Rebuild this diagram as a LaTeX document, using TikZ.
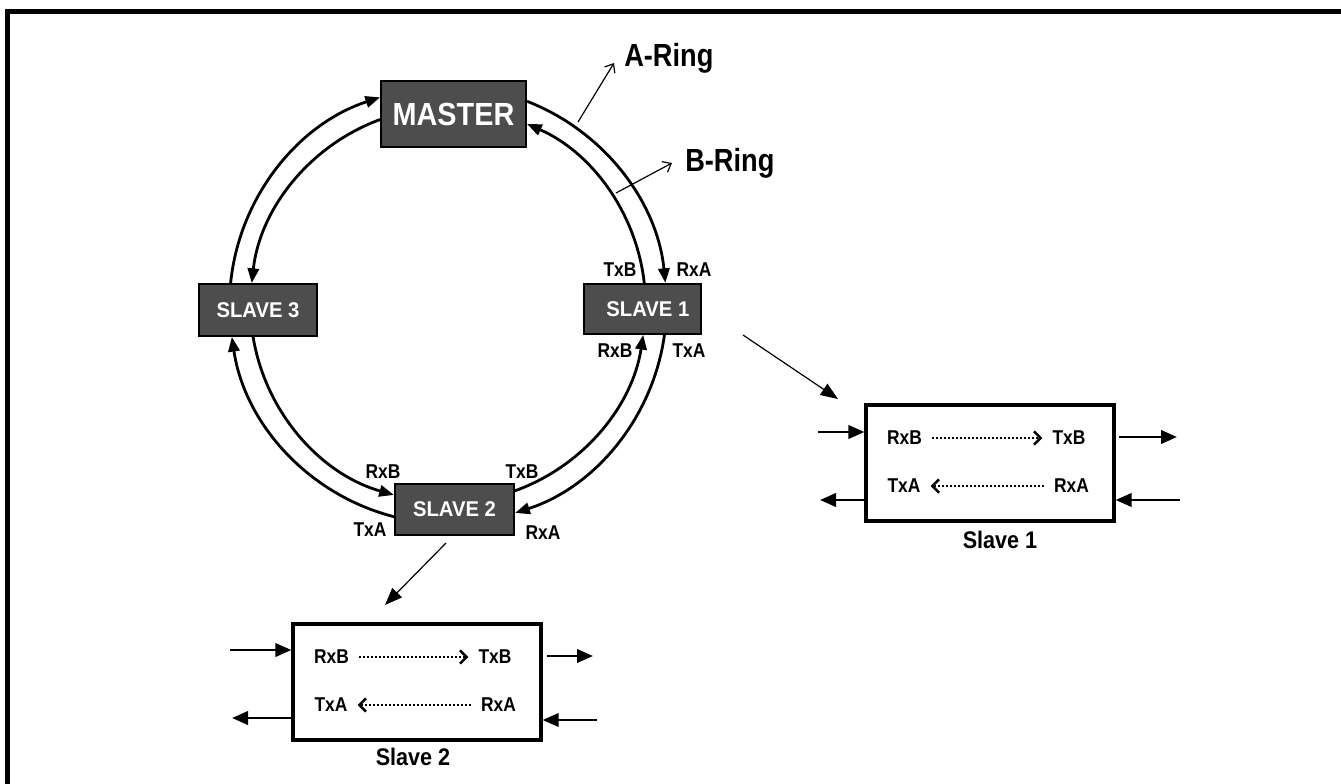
\documentclass[tikz,border=0pt]{standalone}
\usepackage{fontspec}
\setmainfont{Liberation Sans}
\usetikzlibrary{arrows.meta,calc}
\definecolor{boxgray}{RGB}{77,77,77}
\newcommand{\narrow}[2][0.87]{\scalebox{#1}[1]{#2}}
\begin{document}
\begin{tikzpicture}[x=0.75pt,y=0.75pt,
  darkbox/.style={draw=black,line width=1.9pt,fill=boxgray,text=white,inner sep=0pt},
  port/.style={inner sep=0pt,font=\fontsize{15}{17}\selectfont\bfseries},
  ring/.style={line width=2.1pt,-{Triangle[length=11pt,width=8.5pt]}},
  detailbox/.style={draw=black,line width=2.4pt,fill=white,inner sep=0pt,minimum width=186pt,minimum height=87pt},
  extarrow/.style={line width=2.1pt,-{Triangle[length=12pt,width=10pt]}},
  dotarrow/.style={line width=2pt,dash pattern=on 1.6pt off 1.4pt,shorten <=7.5pt,shorten >=7.5pt,
     -{Straight Barb[length=5pt,width=10pt,line width=1.8pt]}},
  thinptr/.style={line width=0.9pt,-{Straight Barb[length=5.5pt,width=9pt,line width=0.9pt]}},
  boxptr/.style={line width=0.9pt,-{Triangle[length=13pt,width=10pt]}},
  ringlabel/.style={inner sep=0pt,anchor=base west,font=\fontsize{24}{28}\selectfont\bfseries},
  caption/.style={inner sep=0pt,font=\fontsize{18}{21}\selectfont\bfseries}]
\useasboundingbox (0,0) rectangle (1341,-784);
\fill[white] (0,0) rectangle (1341,-784);
% frame
\draw[line width=3.75pt] (5,-11.5) -- (1341,-11.5);
\draw[line width=3.75pt] (7.5,-9) -- (7.5,-784);

% ring nodes
\node[darkbox,minimum width=109pt,minimum height=49.5pt,font=\fontsize{24}{28}\selectfont\bfseries] (master) at (453.5,-114) {\narrow[0.9]{MASTER}};
\node[darkbox,minimum width=88.5pt,minimum height=39pt,font=\fontsize{16}{19}\selectfont\bfseries] (slave3) at (258,-310) {\narrow[0.95]{SLAVE 3}};
\node[darkbox,minimum width=88pt,minimum height=37.5pt,font=\fontsize{16}{19}\selectfont\bfseries] (slave1) at (642.5,-309) {\hspace*{8pt}\narrow[0.95]{SLAVE 1}};
\node[darkbox,minimum width=89pt,minimum height=38.25pt,font=\fontsize{16}{19}\selectfont\bfseries] (slave2) at (454.5,-509.5) {\narrow[0.95]{SLAVE 2}};

% ring arcs
\coordinate (C) at (448,-305);
\def\ro{163.875pt}
\def\ri{148.125pt}
\coordinate (s3txa) at ($(C)+(174.2:\ro)$);
\coordinate (mtxa)  at ($(C)+(110.1:\ri)$);
\coordinate (mtx)   at ($(C)+(68.8:\ro)$);
\coordinate (s1txb) at ($(C)+(6.4:\ri)$);
\coordinate (s2txb) at ($(C)+(-70.2:\ri)$);
\coordinate (s1txa) at ($(C)+(-7.9:\ro)$);
\coordinate (s3txb) at ($(C)+(189.3:\ri)$);
\coordinate (s2txa) at ($(C)+(255.7:\ro)$);
\draw[ring] (s3txa) arc[start angle=174.2,end angle=108.1,radius=\ro];
\draw[ring] (mtxa) arc[start angle=110.1,end angle=173.6,radius=\ri];
\draw[ring] (mtx) arc[start angle=68.8,end angle=5.8,radius=\ro];
\draw[ring] (s1txb) arc[start angle=6.4,end angle=66.4,radius=\ri];
\draw[ring] (s2txb) arc[start angle=-70.2,end angle=-8.7,radius=\ri];
\draw[ring] (s1txa) arc[start angle=-7.9,end angle=-72.1,radius=\ro];
\draw[ring] (s3txb) arc[start angle=189.3,end angle=254.1,radius=\ri];
\draw[ring] (s2txa) arc[start angle=255.7,end angle=188.4,radius=\ro];

% port labels on the ring
\node[port] (l1) at (620,-270) {\narrow{TxB}};
\node[port] (l2) at (694,-270) {\narrow{RxA}};
\node[port] (l3) at (615,-351) {\narrow{RxB}};
\node[port] (l4) at (689,-351) {\narrow{TxA}};
\node[port] (l5) at (383,-472) {\narrow{RxB}};
\node[port] (l6) at (522,-472) {\narrow{TxB}};
\node[port] (l7) at (370,-530) {\narrow{TxA}};
\node[port] (l8) at (543,-533) {\narrow{RxA}};

% ring name labels
\node[ringlabel] (aring) at (624,-67) {\narrow[0.85]{A-Ring}};
\node[ringlabel] (bring) at (685,-172) {\narrow[0.85]{B-Ring}};
\coordinate (pa0) at (578,-122);
\coordinate (pa1) at (614,-63);
\coordinate (pb0) at (616,-193);
\coordinate (pb1) at (672,-163);
\draw[thinptr] (pa0) -- (pa1);
\draw[thinptr] (pb0) -- (pb1);

% detail box slave 1
\node[detailbox] (d1) at (990,-463) {};
\node[port] (d1rxb) at (904.5,-438) {\narrow{RxB}};
\node[port] (d1txb) at (1069,-438) {\narrow{TxB}};
\node[port] (d1txa) at (904,-486) {\narrow{TxA}};
\node[port] (d1rxa) at (1071.5,-486) {\narrow{RxA}};
\draw[dotarrow] (d1rxb.east) -- (d1txb.west |- d1rxb.east);
\draw[dotarrow] (d1rxa.west) -- (d1txa.east |- d1rxa.west);
\node[caption] (c1) at (1000,-540) {\narrow[0.9]{Slave 1}};
\coordinate (e1a) at (818,-432);
\coordinate (e1b) at (1119,-437);
\coordinate (e1bt) at (1177,-437);
\coordinate (e1c) at (820,-500);
\coordinate (e1d) at (1180,-500);
\draw[extarrow] (e1a) -- (d1.west |- e1a);
\draw[extarrow] (e1b) -- (e1bt);
\draw[extarrow] (d1.west |- e1c) -- (e1c);
\draw[extarrow] (e1d) -- (d1.east |- e1d);

% detail box slave 2
\node[detailbox] (d2) at (417,-682) {};
\node[port] (d2rxb) at (331.5,-657) {\narrow{RxB}};
\node[port] (d2txb) at (495,-657) {\narrow{TxB}};
\node[port] (d2txa) at (331,-705) {\narrow{TxA}};
\node[port] (d2rxa) at (498.5,-705) {\narrow{RxA}};
\draw[dotarrow] (d2rxb.east) -- (d2txb.west |- d2rxb.east);
\draw[dotarrow] (d2rxa.west) -- (d2txa.east |- d2rxa.west);
\node[caption] (c2) at (413,-757) {\narrow[0.9]{Slave 2}};
\coordinate (e2a) at (230,-650);
\coordinate (e2b) at (547,-656);
\coordinate (e2bt) at (593,-656);
\coordinate (e2c) at (232,-718);
\coordinate (e2d) at (597,-720);
\draw[extarrow] (e2a) -- (d2.west |- e2a);
\draw[extarrow] (e2b) -- (e2bt);
\draw[extarrow] (d2.west |- e2c) -- (e2c);
\draw[extarrow] (e2d) -- (d2.east |- e2d);

% pointers to detail boxes
\coordinate (p1) at (743,-335);
\coordinate (p1t) at (838,-399);
\coordinate (p2) at (446,-543);
\coordinate (p2t) at (385,-605);
\draw[boxptr] (p1) -- (p1t);
\draw[boxptr] (p2) -- (p2t);
\end{tikzpicture}
\end{document}
